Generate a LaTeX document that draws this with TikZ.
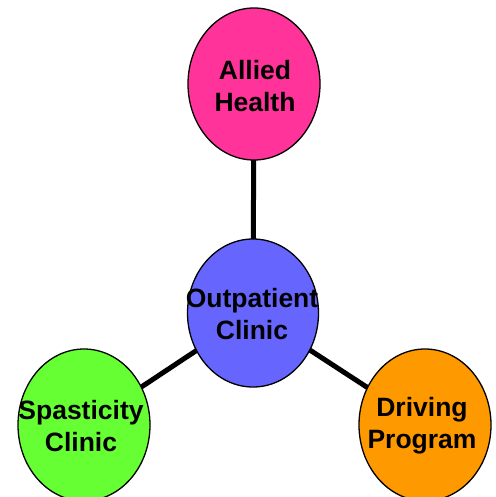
\documentclass[tikz,border=0pt]{standalone}
\usepackage{fontspec}
\setmainfont{Liberation Sans}
\usetikzlibrary{shapes.geometric,backgrounds}
\definecolor{cpink}{HTML}{FF3399}
\definecolor{cblue}{HTML}{6666FF}
\definecolor{cgreen}{HTML}{66FF33}
\definecolor{corange}{HTML}{FF9900}
\begin{document}
\begin{tikzpicture}[x=1pt,y=-1pt,
  bubble/.style={ellipse,draw=black,line width=1.3pt,inner sep=0pt,
    minimum width=132pt,minimum height=152pt},
  lbl/.style={align=center,inner sep=0pt,
    font=\fontsize{26.5pt}{32pt}\selectfont\bfseries},
  link/.style={line width=5pt,black}]
\useasboundingbox (0,0) rectangle (495,497);
\node[bubble,fill=cpink] (allied) at (254,84) {};
\node[bubble,fill=cblue,minimum height=148pt,minimum width=131pt] (out) at (253,313) {};
\node[bubble,fill=cgreen] (spas) at (84,425) {};
\node[bubble,fill=corange] (drive) at (425,425) {};
\node[lbl] (alliedT) at (255,86) {Allied\\Health};
\node[lbl] (outT) at (252,314) {Outpatient\\Clinic};
\node[lbl] (spasT) at (81,426) {Spasticity\\Clinic};
\node[lbl] (driveT) at (422,426) {Driving\\Program};
\begin{pgfonlayer}{background}
\draw[link] (allied.center) -- (out.center);
\draw[link] (out.center) -- (spas.center);
\draw[link] (out.center) -- (drive.center);
\end{pgfonlayer}
\end{tikzpicture}
\end{document}
